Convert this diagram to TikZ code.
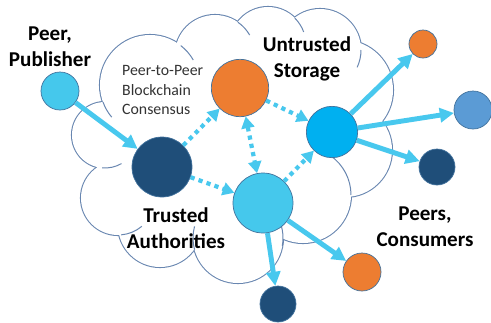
\documentclass[tikz,border=0pt]{standalone}
\usepackage{fontspec}
\setmainfont{Carlito}
\usetikzlibrary{arrows.meta}
\definecolor{cloudblue}{RGB}{104,134,176}
\definecolor{skycyan}{RGB}{69,200,236}
\definecolor{brightblue}{RGB}{0,176,240}
\definecolor{steelblue}{RGB}{91,155,213}
\definecolor{navy}{RGB}{31,78,121}
\definecolor{pptorange}{RGB}{237,125,49}
\definecolor{rimblue}{RGB}{65,113,156}
\definecolor{arrowcyan}{RGB}{72,200,238}
\begin{document}
\begin{tikzpicture}[x=0.03cm,y=-0.03cm,
    peer/.style={circle,draw=rimblue,line width=0.6pt,inner sep=0pt},
    flow/.style={>={Triangle[length=12pt,width=12pt]},arrowcyan,line width=4.2pt},
    sync/.style={>={Triangle[length=10pt,width=11pt]},arrowcyan,line width=3.6pt,dash pattern=on 3.6pt off 3.6pt},
    biglabel/.style={align=center,inner sep=0pt,font=\bfseries\fontsize{18}{22}\selectfont}]
    \useasboundingbox (0,0) rectangle (491,322);
    %cloud
    \foreach \cx/\cy/\r in {105/135/33,118/198/37,160/225/42,238/238/45,303/195/48,345/150/47,343/90/50,320/50/41,268/45/38,215/55/40,150/85/50}
        \draw[cloudblue,line width=1.8pt] (\cx,\cy) circle[radius=\r];
    \foreach \cx/\cy/\r in {105/135/33,118/198/37,160/225/42,238/238/45,303/195/48,345/150/47,343/90/50,320/50/41,268/45/38,215/55/40,150/85/50}
        \fill[white] (\cx,\cy) circle[radius=\r];
    \fill[white] (110,110) -- (150,60) -- (215,40) -- (268,30) -- (320,30) -- (360,70) -- (370,150)
        -- (320,210) -- (240,250) -- (160,240) -- (110,210) -- (95,160) -- cycle;
    % inner arcs of the cloud
    \foreach \cx/\cy/\r/\a/\b in {150/85/50/140/160,105/135/33/60/95,118/198/37/50/85,238/238/45/165/195,
        238/238/45/-30/10,303/195/48/-55/0,320/50/41/0/25,268/45/38/-45/-20,215/55/40/-55/-30,150/85/50/-52/-30}
        \draw[cloudblue,line width=0.85pt] (\cx,\cy) ++(\a:\r) arc[start angle=\a,end angle=\b,radius=\r];
    %peers
    \node[peer,fill=skycyan,minimum size=1.14cm] (pub) at (60,91) {};
    \node[peer,fill=navy,minimum size=1.8cm] (ta) at (162,167) {};
    \node[peer,fill=pptorange,minimum size=1.72cm] (cons) at (240,88) {};
    \node[peer,fill=skycyan,minimum size=1.8cm] (mid) at (263,203) {};
    \node[peer,fill=brightblue,minimum size=1.54cm] (store) at (332,132) {};
    \node[peer,fill=pptorange,minimum size=0.84cm] (outa) at (423,44) {};
    \node[peer,fill=steelblue,minimum size=1.14cm] (outb) at (473,110) {};
    \node[peer,fill=navy,minimum size=1.08cm] (outc) at (437,167) {};
    \node[peer,fill=pptorange,minimum size=1.14cm] (outd) at (362,272) {};
    \node[peer,fill=navy,minimum size=1.08cm] (oute) at (278,304) {};
    %flows
    \draw[flow,->] (pub) -- (ta);
    \draw[flow,->] (store) -- (outa);
    \draw[flow,->] (store) -- (outb);
    \draw[flow,->] (store) -- (outc);
    \draw[flow,->] (mid) -- (outd);
    \draw[flow,->] (mid) -- (oute);
    \draw[sync,->] (ta) -- (cons);
    \draw[sync,->] (ta) -- (mid);
    \draw[sync,<->] (cons) -- (mid);
    \draw[sync,->] (cons) -- (store);
    \draw[sync,->] (mid) -- (store);
    %labels
    \node[biglabel] (publabel) at (50,47) {Peer,\\Publisher};
    \node[biglabel] (storelabel) at (307,59) {Untrusted\\Storage};
    \node[biglabel] (talabel) at (176,228) {Trusted\\Authorities};
    \node[biglabel] (outlabel) at (425,227) {Peers,\\Consumers};
    \node[align=left,inner sep=0pt,anchor=west,text=black!80,font=\fontsize{13.5}{17}\selectfont] (conslabel) at (122,90) {Peer-to-Peer\\Blockchain\\Consensus};
\end{tikzpicture}
\end{document}
